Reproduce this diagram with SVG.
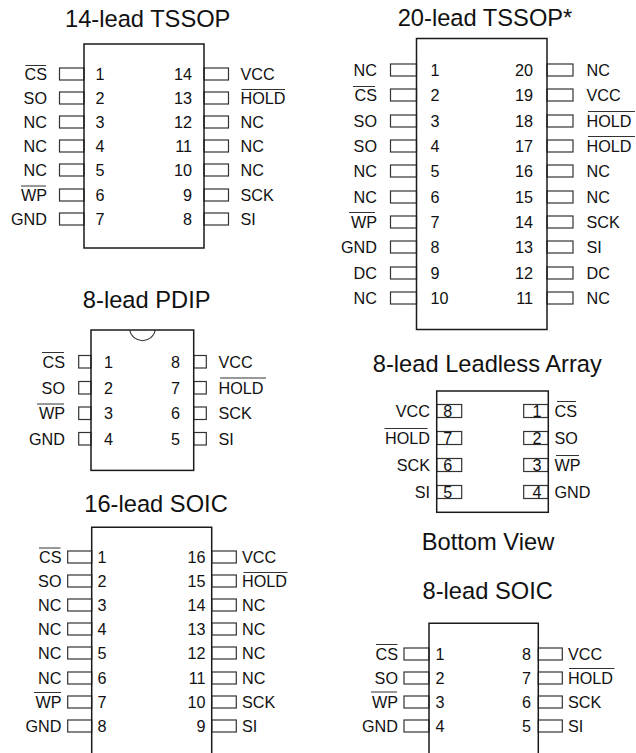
<svg xmlns="http://www.w3.org/2000/svg" width="636" height="753" viewBox="0 0 636 753">
<style>
text{font-family:"Liberation Sans",Arial,sans-serif;fill:#111}
.t{font-size:23.7px;text-anchor:middle}
.l{font-size:16.2px;text-anchor:end}
.r{font-size:16.2px}
.n{font-size:16.2px}
.e{font-size:16.2px;text-anchor:end}
.c{font-size:16.2px;text-anchor:middle}
.b{fill:none;stroke:#1a1a1a;stroke-width:1.5}
.p{fill:#fff;stroke:#333;stroke-width:1.2}
.o{stroke:#333;stroke-width:1}
</style>
<rect width="636" height="753" fill="#fff"/>
<g id="tssop14">
<text class="t" x="147.7" y="27.3">14-lead TSSOP</text>
<g id="tssop14-leads">
<rect class="p" x="59.5" y="68" width="24.5" height="12"/><rect class="p" x="59.5" y="92" width="24.5" height="12"/><rect class="p" x="59.5" y="116" width="24.5" height="12"/><rect class="p" x="59.5" y="140" width="24.5" height="12"/><rect class="p" x="59.5" y="164" width="24.5" height="12"/><rect class="p" x="59.5" y="189" width="24.5" height="12"/><rect class="p" x="59.5" y="213" width="24.5" height="12"/>
<rect class="p" x="204" y="68" width="24.5" height="12"/><rect class="p" x="204" y="92" width="24.5" height="12"/><rect class="p" x="204" y="116" width="24.5" height="12"/><rect class="p" x="204" y="140" width="24.5" height="12"/><rect class="p" x="204" y="164" width="24.5" height="12"/><rect class="p" x="204" y="189" width="24.5" height="12"/><rect class="p" x="204" y="213" width="24.5" height="12"/>
</g>
<rect class="b" x="84" y="44" width="120" height="204"/>
<text class="l" x="47" y="80">CS</text><line class="o" x1="25.5" y1="65.5" x2="46" y2="65.5"/>
<text class="l" x="47" y="104">SO</text><text class="l" x="47" y="128">NC</text><text class="l" x="47" y="152">NC</text><text class="l" x="47" y="176">NC</text>
<text class="l" x="47" y="200.5">WP</text><line class="o" x1="21" y1="186" x2="46" y2="186"/>
<text class="l" x="47" y="224.5">GND</text>
<text class="n" x="95.5" y="80">1</text><text class="n" x="95.5" y="104">2</text><text class="n" x="95.5" y="128">3</text><text class="n" x="95.5" y="152">4</text><text class="n" x="95.5" y="176">5</text><text class="n" x="95.5" y="200.5">6</text><text class="n" x="95.5" y="224.5">7</text>
<text class="e" x="192" y="80">14</text><text class="e" x="192" y="104">13</text><text class="e" x="192" y="128">12</text><text class="e" x="192" y="152">11</text><text class="e" x="192" y="176">10</text><text class="e" x="192" y="200.5">9</text><text class="e" x="192" y="224.5">8</text>
<text class="r" x="240.5" y="80">VCC</text><text class="r" x="240.5" y="104">HOLD</text><line class="o" x1="241.5" y1="89.5" x2="285" y2="89.5"/>
<text class="r" x="240.5" y="128">NC</text><text class="r" x="240.5" y="152">NC</text><text class="r" x="240.5" y="176">NC</text><text class="r" x="240.5" y="200.5">SCK</text><text class="r" x="240.5" y="224.5">SI</text>
</g>
<g id="tssop20">
<text class="t" x="485" y="26">20-lead TSSOP*</text>
<g id="tssop20-leads">
<rect class="p" x="390.5" y="64" width="26" height="12"/><rect class="p" x="390.5" y="89" width="26" height="12"/><rect class="p" x="390.5" y="115" width="26" height="12"/><rect class="p" x="390.5" y="140" width="26" height="12"/><rect class="p" x="390.5" y="165" width="26" height="12"/><rect class="p" x="390.5" y="191" width="26" height="12"/><rect class="p" x="390.5" y="216" width="26" height="12"/><rect class="p" x="390.5" y="241" width="26" height="12"/><rect class="p" x="390.5" y="267" width="26" height="12"/><rect class="p" x="390.5" y="292" width="26" height="12"/>
<rect class="p" x="547" y="64" width="26" height="12"/><rect class="p" x="547" y="89" width="26" height="12"/><rect class="p" x="547" y="115" width="26" height="12"/><rect class="p" x="547" y="140" width="26" height="12"/><rect class="p" x="547" y="165" width="26" height="12"/><rect class="p" x="547" y="191" width="26" height="12"/><rect class="p" x="547" y="216" width="26" height="12"/><rect class="p" x="547" y="241" width="26" height="12"/><rect class="p" x="547" y="267" width="26" height="12"/><rect class="p" x="547" y="292" width="26" height="12"/>
</g>
<rect class="b" x="416.5" y="38.5" width="130.5" height="291"/>
<text class="l" x="377" y="76">NC</text><text class="l" x="377" y="101">CS</text><line class="o" x1="353" y1="86.5" x2="375" y2="86.5"/>
<text class="l" x="377" y="127">SO</text><text class="l" x="377" y="152">SO</text><text class="l" x="377" y="177">NC</text><text class="l" x="377" y="203">NC</text>
<text class="l" x="377" y="228">WP</text><line class="o" x1="349" y1="212.5" x2="375" y2="212.5"/>
<text class="l" x="377" y="253">GND</text><text class="l" x="377" y="279">DC</text><text class="l" x="377" y="304">NC</text>
<text class="n" x="430.5" y="76">1</text><text class="n" x="430.5" y="101">2</text><text class="n" x="430.5" y="127">3</text><text class="n" x="430.5" y="152">4</text><text class="n" x="430.5" y="177">5</text><text class="n" x="430.5" y="203">6</text><text class="n" x="430.5" y="228">7</text><text class="n" x="430.5" y="253">8</text><text class="n" x="430.5" y="279">9</text><text class="n" x="430.5" y="304">10</text>
<text class="e" x="533" y="76">20</text><text class="e" x="533" y="101">19</text><text class="e" x="533" y="127">18</text><text class="e" x="533" y="152">17</text><text class="e" x="533" y="177">16</text><text class="e" x="533" y="203">15</text><text class="e" x="533" y="228">14</text><text class="e" x="533" y="253">13</text><text class="e" x="533" y="279">12</text><text class="e" x="533" y="304">11</text>
<text class="r" x="586.5" y="76">NC</text><text class="r" x="586.5" y="101">VCC</text>
<text class="r" x="586.5" y="127">HOLD</text><line class="o" x1="588" y1="111.5" x2="635" y2="111.5"/>
<text class="r" x="586.5" y="152">HOLD</text><line class="o" x1="588" y1="136.5" x2="635" y2="136.5"/>
<text class="r" x="586.5" y="177">NC</text><text class="r" x="586.5" y="203">NC</text><text class="r" x="586.5" y="228">SCK</text><text class="r" x="586.5" y="253">SI</text><text class="r" x="586.5" y="279">DC</text><text class="r" x="586.5" y="304">NC</text>
</g>
<g id="pdip8">
<text class="t" x="146.7" y="308">8-lead PDIP</text>
<g id="pdip8-leads">
<rect class="p" x="78.7" y="355.5" width="12.3" height="12.5"/><rect class="p" x="78.7" y="381.5" width="12.3" height="12.5"/><rect class="p" x="78.7" y="407" width="12.3" height="12.5"/><rect class="p" x="78.7" y="432.5" width="12.3" height="12.5"/>
<rect class="p" x="193.7" y="355.5" width="12.6" height="12.5"/><rect class="p" x="193.7" y="381.5" width="12.6" height="12.5"/><rect class="p" x="193.7" y="407" width="12.6" height="12.5"/><rect class="p" x="193.7" y="432.5" width="12.6" height="12.5"/>
</g>
<rect class="b" x="91" y="330" width="102.7" height="140.4"/>
<path d="M129.7 330A13 13 0 0 0 155.3 330" fill="none" stroke="#333" stroke-width="1.1"/>
<text class="l" x="65" y="367.5">CS</text><line class="o" x1="42" y1="352.5" x2="64" y2="352.5"/>
<text class="l" x="65" y="393.5">SO</text>
<text class="l" x="65" y="419">WP</text><line class="o" x1="37" y1="404" x2="64" y2="404"/>
<text class="l" x="65" y="444.5">GND</text>
<text class="n" x="104" y="367.5">1</text><text class="n" x="104" y="393.5">2</text><text class="n" x="104" y="419">3</text><text class="n" x="104" y="444.5">4</text>
<text class="e" x="180" y="367.5">8</text><text class="e" x="180" y="393.5">7</text><text class="e" x="180" y="419">6</text><text class="e" x="180" y="444.5">5</text>
<text class="r" x="218.5" y="367.5">VCC</text>
<text class="r" x="218.5" y="393.5">HOLD</text><line class="o" x1="220" y1="378" x2="266" y2="378"/>
<text class="r" x="218.5" y="419">SCK</text><text class="r" x="218.5" y="444.5">SI</text>
</g>
<g id="leadless8">
<text class="t" x="487.3" y="371.7">8-lead Leadless Array</text>
<g id="leadless8-pads">
<rect class="p" x="436.7" y="404.5" width="25" height="13"/><rect class="p" x="436.7" y="431.5" width="25" height="13"/><rect class="p" x="436.7" y="458.5" width="25" height="13"/><rect class="p" x="436.7" y="485.5" width="25" height="13"/>
<rect class="p" x="523.7" y="404.5" width="24.6" height="13"/><rect class="p" x="523.7" y="431.5" width="24.6" height="13"/><rect class="p" x="523.7" y="458.5" width="24.6" height="13"/><rect class="p" x="523.7" y="485.5" width="24.6" height="13"/>
</g>
<rect class="b" x="436.7" y="391" width="111.6" height="121.3"/>
<text class="l" x="430" y="417">VCC</text>
<text class="l" x="430" y="444">HOLD</text><line class="o" x1="384.5" y1="428.5" x2="427.5" y2="428.5"/>
<text class="l" x="430" y="471">SCK</text><text class="l" x="430" y="498">SI</text>
<text class="c" x="447.7" y="417">8</text><text class="c" x="447.7" y="444">7</text><text class="c" x="447.7" y="471">6</text><text class="c" x="447.7" y="498">5</text>
<text class="c" x="537" y="417">1</text><text class="c" x="537" y="444">2</text><text class="c" x="537" y="471">3</text><text class="c" x="537" y="498">4</text>
<text class="r" x="554.5" y="417">CS</text><line class="o" x1="557" y1="401.5" x2="576" y2="401.5"/>
<text class="r" x="554.5" y="444">SO</text>
<text class="r" x="554.5" y="471">WP</text><line class="o" x1="556" y1="455.5" x2="579" y2="455.5"/>
<text class="r" x="554.5" y="498">GND</text>
<text class="t" x="488" y="550">Bottom View</text>
</g>
<g id="soic16">
<text class="t" x="156" y="511.7">16-lead SOIC</text>
<g id="soic16-leads">
<rect class="p" x="67.7" y="551" width="24" height="12"/><rect class="p" x="67.7" y="575" width="24" height="12"/><rect class="p" x="67.7" y="599" width="24" height="12"/><rect class="p" x="67.7" y="623" width="24" height="12"/><rect class="p" x="67.7" y="647" width="24" height="12"/><rect class="p" x="67.7" y="672" width="24" height="12"/><rect class="p" x="67.7" y="696" width="24" height="12"/><rect class="p" x="67.7" y="720" width="24" height="12"/>
<rect class="p" x="211.7" y="551" width="24.6" height="12"/><rect class="p" x="211.7" y="575" width="24.6" height="12"/><rect class="p" x="211.7" y="599" width="24.6" height="12"/><rect class="p" x="211.7" y="623" width="24.6" height="12"/><rect class="p" x="211.7" y="647" width="24.6" height="12"/><rect class="p" x="211.7" y="672" width="24.6" height="12"/><rect class="p" x="211.7" y="696" width="24.6" height="12"/><rect class="p" x="211.7" y="720" width="24.6" height="12"/>
</g>
<path class="b" d="M91.7 753V527.3H211.7V753"/>
<text class="l" x="61.5" y="563">CS</text><line class="o" x1="39" y1="548" x2="60.5" y2="548"/>
<text class="l" x="61.5" y="587">SO</text><text class="l" x="61.5" y="611">NC</text><text class="l" x="61.5" y="635">NC</text><text class="l" x="61.5" y="659">NC</text><text class="l" x="61.5" y="684">NC</text>
<text class="l" x="61.5" y="708">WP</text><line class="o" x1="34" y1="692.5" x2="61" y2="692.5"/>
<text class="l" x="61.5" y="732">GND</text>
<text class="n" x="97.5" y="563">1</text><text class="n" x="97.5" y="587">2</text><text class="n" x="97.5" y="611">3</text><text class="n" x="97.5" y="635">4</text><text class="n" x="97.5" y="659">5</text><text class="n" x="97.5" y="684">6</text><text class="n" x="97.5" y="708">7</text><text class="n" x="97.5" y="732">8</text>
<text class="e" x="205.5" y="563">16</text><text class="e" x="205.5" y="587">15</text><text class="e" x="205.5" y="611">14</text><text class="e" x="205.5" y="635">13</text><text class="e" x="205.5" y="659">12</text><text class="e" x="205.5" y="684">11</text><text class="e" x="205.5" y="708">10</text><text class="e" x="205.5" y="732">9</text>
<text class="r" x="242" y="563">VCC</text><text class="r" x="242" y="587">HOLD</text><line class="o" x1="243.5" y1="572.5" x2="287.5" y2="572.5"/>
<text class="r" x="242" y="611">NC</text><text class="r" x="242" y="635">NC</text><text class="r" x="242" y="659">NC</text><text class="r" x="242" y="684">NC</text><text class="r" x="242" y="708">SCK</text><text class="r" x="242" y="732">SI</text>
</g>
<g id="soic8">
<text class="t" x="487.7" y="599.3">8-lead SOIC</text>
<g id="soic8-leads">
<rect class="p" x="404" y="648" width="25" height="12"/><rect class="p" x="404" y="672" width="25" height="12"/><rect class="p" x="404" y="696" width="25" height="12"/><rect class="p" x="404" y="720" width="25" height="12"/>
<rect class="p" x="538.3" y="648" width="24" height="12"/><rect class="p" x="538.3" y="672" width="24" height="12"/><rect class="p" x="538.3" y="696" width="24" height="12"/><rect class="p" x="538.3" y="720" width="24" height="12"/>
</g>
<path class="b" d="M429 753V623.3H538.3V753"/>
<text class="l" x="398" y="660">CS</text><line class="o" x1="376" y1="644.5" x2="397.5" y2="644.5"/>
<text class="l" x="398" y="683.5">SO</text>
<text class="l" x="398" y="707.5">WP</text><line class="o" x1="371" y1="692" x2="397" y2="692"/>
<text class="l" x="398" y="731.5">GND</text>
<text class="n" x="435.5" y="660">1</text><text class="n" x="435.5" y="683.5">2</text><text class="n" x="435.5" y="707.5">3</text><text class="n" x="435.5" y="731.5">4</text>
<text class="e" x="531" y="660">8</text><text class="e" x="531" y="683.5">7</text><text class="e" x="531" y="707.5">6</text><text class="e" x="531" y="732">5</text>
<text class="r" x="568" y="660">VCC</text><text class="r" x="568" y="683.5">HOLD</text><line class="o" x1="569" y1="668.5" x2="614.5" y2="668.5"/>
<text class="r" x="568" y="707.5">SCK</text><text class="r" x="568" y="731.5">SI</text>
</g>
</svg>
